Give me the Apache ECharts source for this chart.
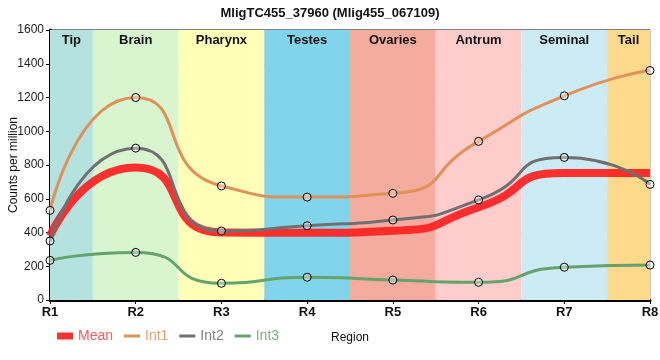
<!DOCTYPE html>
<html>
<head>
<meta charset="utf-8">
<script src="https://cdn.jsdelivr.net/npm/echarts@6/dist/echarts.min.js"></script>
<style>html,body{margin:0;padding:0;background:#fff}#c{width:660px;height:360px}</style>
</head>
<body>
<div id="c"></div>
<script>
var categories = ['R1','R2','R3','R4','R5','R6','R7','R8'];
var meanValues = [380, 785, 400, 398, 410, 550, 752, 752];
var int1Values = [531, 1200, 676, 610, 632, 940, 1210, 1360];
var int2Values = [350, 900, 409, 440, 474, 593, 845, 685];
var int3Values = [235, 282, 99, 135, 118, 105, 194, 207];
var regionNames = ['Tip','Brain','Pharynx','Testes','Ovaries','Antrum','Seminal','Tail'];
var regionColors = ['#b3e2df','#d8f5d0','#ffffb8','#80d5ec','#f5ab9e','#ffcccc','#ccebf5','#fdd98b'];
var yTicks = [0,200,400,600,800,1000,1200,1400,1600];

function pairs(vals){ return vals.map(function(v,i){ return [i, v]; }); }

var bands = regionNames.map(function(n,i){
  var s = Math.max(0, i - 0.5), e = Math.min(categories.length - 1, i + 0.5);
  return [{name: n, xAxis: s, itemStyle:{color: regionColors[i]}}, {xAxis: e}];
});

var FONT = 'Liberation Sans, Arial, sans-serif';
var SMOOTH = 0.65;
var markerStyle = {color:'rgba(255,255,255,0.35)', borderColor:'#000', borderWidth:1};

var chart = echarts.init(document.getElementById('c'));
chart.setOption({
  animation:false,
  textStyle:{fontFamily:FONT},
  title:{text:'MligTC455_37960 (Mlig455_067109)', left:'center', top:2,
    textStyle:{fontSize:13, fontWeight:'bold', color:'#111', fontFamily:FONT}},
  grid:{left:50, right:10, top:30, bottom:60, containLabel:false, outerBoundsMode:'none',
    show:true, borderColor:'#000', borderWidth:1, backgroundColor:'transparent'},
  legend:{left:52, top:324, itemWidth:16, itemHeight:7, itemGap:11,
    textStyle:{fontSize:14, fontFamily:FONT},
    data:[
      {name:'Mean', icon:'rect', itemStyle:{color:'#ff3030', borderWidth:0}, textStyle:{color:'#ff5a5a'}},
      {name:'Int1', icon:'path://M0,0H16V3H0Z', itemStyle:{color:'#e0915a', borderWidth:0}, textStyle:{color:'#e8a272'}},
      {name:'Int2', icon:'path://M0,0H16V3H0Z', itemStyle:{color:'#707070', borderWidth:0}, textStyle:{color:'#808080'}},
      {name:'Int3', icon:'path://M0,0H16V3H0Z', itemStyle:{color:'#64a46c', borderWidth:0}, textStyle:{color:'#78b480'}}
    ]},
  xAxis:{type:'value', min:0, max:categories.length-1, interval:1,
    name:'Region', nameLocation:'middle', nameGap:32, nameMoveOverlap:false,
    nameTextStyle:{fontSize:12, color:'#111', fontFamily:FONT},
    axisLine:{show:true, lineStyle:{color:'#000', width:3}},
    axisTick:{show:true, length:4, lineStyle:{color:'#000'}},
    axisLabel:{fontSize:13, fontWeight:'bold', color:'#111', margin:6, fontFamily:FONT,
      formatter:function(v){ return categories[v] || ''; }},
    splitLine:{show:true, lineStyle:{color:'#c8c8c8', width:1}}},
  yAxis:{type:'value', min:yTicks[0], max:yTicks[yTicks.length-1], interval:yTicks[1]-yTicks[0],
    name:'Counts per million', nameLocation:'middle', nameGap:30, nameMoveOverlap:false,
    nameTextStyle:{fontSize:12, color:'#111', fontFamily:FONT},
    axisLine:{show:true, lineStyle:{color:'#000', width:3}},
    axisTick:{show:true, length:4, lineStyle:{color:'#000'}},
    axisLabel:{fontSize:12, color:'#222', margin:6, fontFamily:FONT,
      formatter:function(v){ return String(v); }},
    splitLine:{show:true, lineStyle:{color:'#c8c8c8', width:1}}},
  series:[
    {name:'bands', type:'line', data:pairs(meanValues), z:-1, silent:true, symbol:'none',
      lineStyle:{opacity:0}, legendHoverLink:false,
      markArea:{silent:true, data:bands,
        label:{show:true, position:'insideTop', distance:4, fontSize:13, fontWeight:'bold', color:'#111', fontFamily:FONT}}},
    {name:'Int1', type:'line', data:pairs(int1Values), smooth:SMOOTH, symbol:'circle', symbolSize:8,
      lineStyle:{color:'#e0915a', width:3}, itemStyle:markerStyle, z:3},
    {name:'Int2', type:'line', data:pairs(int2Values), smooth:SMOOTH, symbol:'circle', symbolSize:8,
      lineStyle:{color:'#707070', width:3}, itemStyle:markerStyle, z:3},
    {name:'Int3', type:'line', data:pairs(int3Values), smooth:SMOOTH, symbol:'circle', symbolSize:8,
      lineStyle:{color:'#64a46c', width:3}, itemStyle:markerStyle, z:3},
    {name:'Mean', type:'line', data:pairs(meanValues), smooth:SMOOTH, symbol:'none',
      lineStyle:{color:'#ff2020', width:8, opacity:0.92}, itemStyle:{color:'#ff3030'}, z:2}
  ]
});
</script>
</body>
</html>
